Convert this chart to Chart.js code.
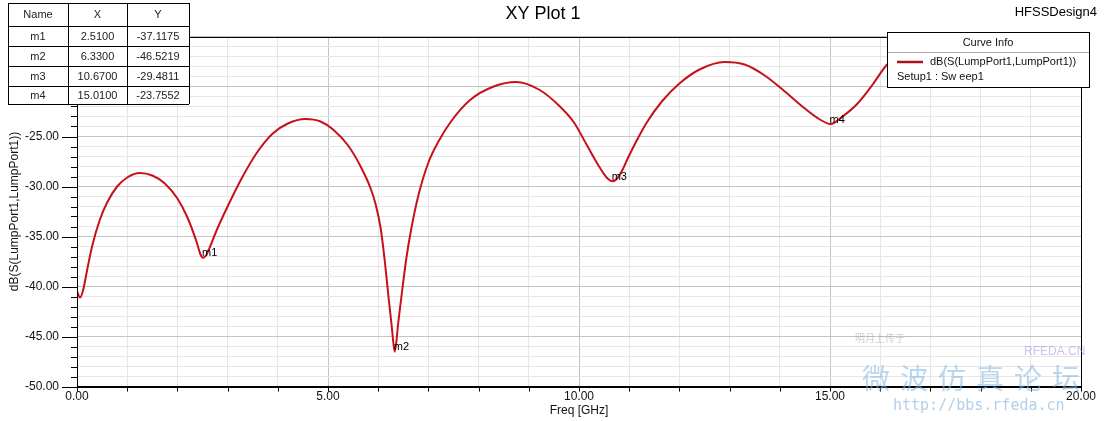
<!DOCTYPE html>
<html>
<head>
<meta charset="utf-8">
<script src="https://cdn.jsdelivr.net/npm/chart.js@4.4.1/dist/chart.umd.min.js"></script>
<style>
  html, body { margin: 0; padding: 0; background: #fff; }
  canvas { display: block; }
</style>
</head>
<body>
<canvas id="xyPlot" width="1107" height="421"></canvas>
<script>
// S11 sweep (GHz, dB)
const freqGHz = [
  0.00, 0.06, 0.12, 0.20, 0.30, 0.45, 0.60, 0.80, 1.00, 1.25,
  1.50, 1.75, 2.00, 2.20, 2.38, 2.46, 2.51, 2.57, 2.66, 2.78,
  3.00, 3.30, 3.60, 3.90, 4.20, 4.55, 4.85, 5.10, 5.40, 5.65,
  5.85, 5.95, 6.05, 6.13, 6.20, 6.27, 6.33, 6.40, 6.48, 6.56,
  6.66, 6.80, 7.00, 7.20, 7.45, 7.83, 8.30, 8.75, 9.20, 9.60,
  9.90, 10.15, 10.40, 10.55, 10.67, 10.76, 10.86, 10.98, 11.15, 11.35,
  11.65, 12.00, 12.40, 12.90, 13.30, 13.70, 14.10, 14.50, 14.80, 15.01,
  15.25, 15.55, 15.85, 16.13, 16.50, 17.00, 17.50, 18.50, 19.50, 20.00
];
const s11dB = [
  -40.5, -41.1, -40.4, -38.4, -36.0, -33.4, -31.6, -30.0, -29.1, -28.65,
  -28.9, -29.7, -31.2, -33.1, -35.5, -36.8, -37.1175, -36.9, -35.9, -34.4,
  -32.0, -29.0, -26.5, -24.7, -23.7, -23.25, -23.5, -24.3, -25.9, -28.0,
  -30.2, -31.8, -34.2, -37.4, -40.8, -44.0, -46.5219, -43.6, -40.3, -37.2,
  -34.2, -30.9, -27.6, -25.5, -23.5, -21.35, -20.0, -19.55, -20.3, -21.9,
  -23.6, -25.8, -28.0, -29.1, -29.4811, -29.2, -28.4, -27.1, -25.4, -23.6,
  -21.5, -19.7, -18.3, -17.55, -17.8, -18.9, -20.5, -22.2, -23.3, -23.7552,
  -23.0, -21.7, -19.8, -17.85, -16.5, -15.8, -15.6, -16.2, -17.5, -18.3
];

const markerNames = ['m1', 'm2', 'm3', 'm4'];
const markerFreq = [2.51, 6.33, 10.67, 15.01];
const markerDb = [-37.1175, -46.5219, -29.4811, -23.7552];

const xLabelValues = [0, 5, 10, 15, 20];
const yLabelValues = [-50, -45, -40, -35, -30, -25, -20, -15];

const traceName = 'dB(S(LumpPort1,LumpPort1))';
const sweepName = 'Setup1 : Sw eep1';

const FONT = '"Liberation Sans", Arial, sans-serif';

const points = freqGHz.map((f, i) => ({ x: f, y: s11dB[i] }));

// axis tick marks, plot frame and marker labels
const framePlugin = {
  id: 'frame',
  afterDatasetsDraw(chart) {
    const { ctx, chartArea: a, scales: { x, y } } = chart;
    ctx.save();
    ctx.strokeStyle = '#000';
    ctx.lineWidth = 1;
    ctx.strokeRect(Math.round(a.left) + 0.5, Math.round(a.top) + 0.5,
      Math.round(a.right - a.left), Math.round(a.bottom - a.top));

    ctx.beginPath();
    y.ticks.forEach(t => {
      const py = Math.round(y.getPixelForValue(t.value)) + 0.5;
      const len = yLabelValues.includes(t.value) ? 15 : 6;
      ctx.moveTo(a.left - len, py);
      ctx.lineTo(a.left, py);
    });
    x.ticks.forEach(t => {
      const px = Math.round(x.getPixelForValue(t.value)) + 0.5;
      ctx.moveTo(px, a.bottom);
      ctx.lineTo(px, a.bottom + 5);
    });
    ctx.stroke();

    ctx.fillStyle = '#000';
    ctx.font = '11px ' + FONT;
    ctx.textAlign = 'left';
    ctx.textBaseline = 'bottom';
    markerNames.forEach((n, i) => {
      const px = x.getPixelForValue(markerFreq[i]);
      const py = y.getPixelForValue(markerDb[i]);
      ctx.fillText(n, px - 1, py + 1);
    });
    ctx.restore();
  },
  afterDraw(chart) {
    const { ctx } = chart;
    ctx.save();

    // titles
    ctx.fillStyle = '#000';
    ctx.font = '18px ' + FONT;
    ctx.textAlign = 'center';
    ctx.textBaseline = 'middle';
    ctx.fillText('XY Plot 1', 543, 14);
    ctx.font = '13px ' + FONT;
    ctx.textAlign = 'right';
    ctx.fillText('HFSSDesign4', 1097, 12);

    // marker table
    const cols = [8, 68, 127, 189];
    const rows = [3, 25.5, 45.5, 65.5, 85.5, 104];
    ctx.fillStyle = '#fff';
    ctx.fillRect(cols[0], rows[0], cols[3] - cols[0], rows[5] - rows[0]);
    ctx.strokeStyle = '#000';
    ctx.lineWidth = 1;
    ctx.beginPath();
    rows.forEach(r => { ctx.moveTo(cols[0], Math.round(r) + 0.5); ctx.lineTo(cols[3], Math.round(r) + 0.5); });
    cols.forEach(c => { ctx.moveTo(c + 0.5, rows[0]); ctx.lineTo(c + 0.5, rows[5]); });
    ctx.stroke();
    ctx.fillStyle = '#222';
    ctx.font = '11px ' + FONT;
    ctx.textAlign = 'center';
    const cells = [['Name', 'X', 'Y']].concat(markerNames.map((n, i) =>
      [n, markerFreq[i].toFixed(4), markerDb[i].toFixed(4)]));
    cells.forEach((row, ri) => {
      const cy = (rows[ri] + rows[ri + 1]) / 2 + 1;
      row.forEach((txt, ci) => ctx.fillText(txt, (cols[ci] + cols[ci + 1]) / 2, cy));
    });

    // curve info box
    const lx = 887, ly = 32, lw = 202, lh = 55;
    ctx.fillStyle = '#fff';
    ctx.fillRect(lx, ly, lw, lh);
    ctx.strokeStyle = '#000';
    ctx.strokeRect(lx + 0.5, ly + 0.5, lw, lh);
    ctx.strokeStyle = '#aaa';
    ctx.beginPath();
    ctx.moveTo(lx + 1, 52.5);
    ctx.lineTo(lx + lw, 52.5);
    ctx.stroke();
    ctx.fillStyle = '#111';
    ctx.textAlign = 'center';
    ctx.fillText('Curve Info', lx + lw / 2, 43);
    ctx.strokeStyle = '#b01020';
    ctx.lineWidth = 2.5;
    ctx.beginPath();
    ctx.moveTo(897, 62);
    ctx.lineTo(923, 62);
    ctx.stroke();
    ctx.textAlign = 'left';
    ctx.fillText(traceName, 930, 62);
    ctx.fillText(sweepName, 897, 77);

    // site watermark
    ctx.globalAlpha = 0.55;
    ctx.fillStyle = '#9aa6b8';
    ctx.font = '10px "Noto Sans CJK SC", sans-serif';
    ctx.fillText('明月上传于', 855, 338);
    ctx.fillStyle = '#7fb6e0';
    ctx.font = '28px "Noto Sans CJK SC", sans-serif';
    const wm = '微波仿真论坛';
    for (let i = 0; i < wm.length; i++) ctx.fillText(wm[i], 862 + i * 38, 378);
    ctx.font = '15px "DejaVu Sans Mono", monospace';
    ctx.fillStyle = '#6fa8d8';
    ctx.fillText('http://bbs.rfeda.cn', 893, 406);
    ctx.font = '12px ' + FONT;
    ctx.fillStyle = '#a08ce0';
    ctx.fillText('RFEDA.CN', 1024, 352);
    ctx.restore();
  }
};

new Chart(document.getElementById('xyPlot'), {
  type: 'line',
  data: {
    datasets: [{
      label: traceName,
      data: points,
      borderColor: '#c8101c',
      borderWidth: 2,
      pointRadius: 0,
      cubicInterpolationMode: 'monotone',
      fill: false
    }]
  },
  options: {
    responsive: false,
    animation: false,
    layout: { padding: { top: 36.5, right: 26, left: 0, bottom: 0 } },
    plugins: {
      legend: { display: false },
      title: { display: false },
      tooltip: { enabled: false }
    },
    scales: {
      x: {
        type: 'linear',
        min: 0,
        max: 20,
        afterFit: s => { s.height = 34.5; },
        grid: {
          drawTicks: false,
          color: c => (c.tick && c.tick.value % 5 === 0) ? '#c4c4c4' : '#e6e6e6'
        },
        border: { color: '#000', width: 1 },
        ticks: {
          stepSize: 1,
          autoSkip: false,
          maxRotation: 0,
          padding: 3,
          color: '#111',
          font: { family: FONT, size: 12 },
          callback: v => xLabelValues.includes(v) ? v.toFixed(2) : ''
        },
        title: {
          display: true,
          text: 'Freq [GHz]',
          color: '#111',
          font: { family: FONT, size: 12 },
          padding: { top: 0, bottom: 3 }
        }
      },
      y: {
        min: -50,
        max: -15,
        afterFit: s => { s.width = 77; },
        grid: {
          drawTicks: false,
          color: c => (c.tick && c.tick.value % 5 === 0) ? '#c4c4c4' : '#e6e6e6'
        },
        border: { color: '#000', width: 1 },
        ticks: {
          stepSize: 1,
          autoSkip: false,
          padding: 18,
          color: '#111',
          font: { family: FONT, size: 12 },
          callback: v => yLabelValues.includes(v) ? v.toFixed(2) : ''
        },
        title: {
          display: true,
          text: traceName,
          color: '#111',
          font: { family: FONT, size: 12 },
          padding: { top: 7, bottom: 0 }
        }
      }
    }
  },
  plugins: [framePlugin]
});
</script>
</body>
</html>
